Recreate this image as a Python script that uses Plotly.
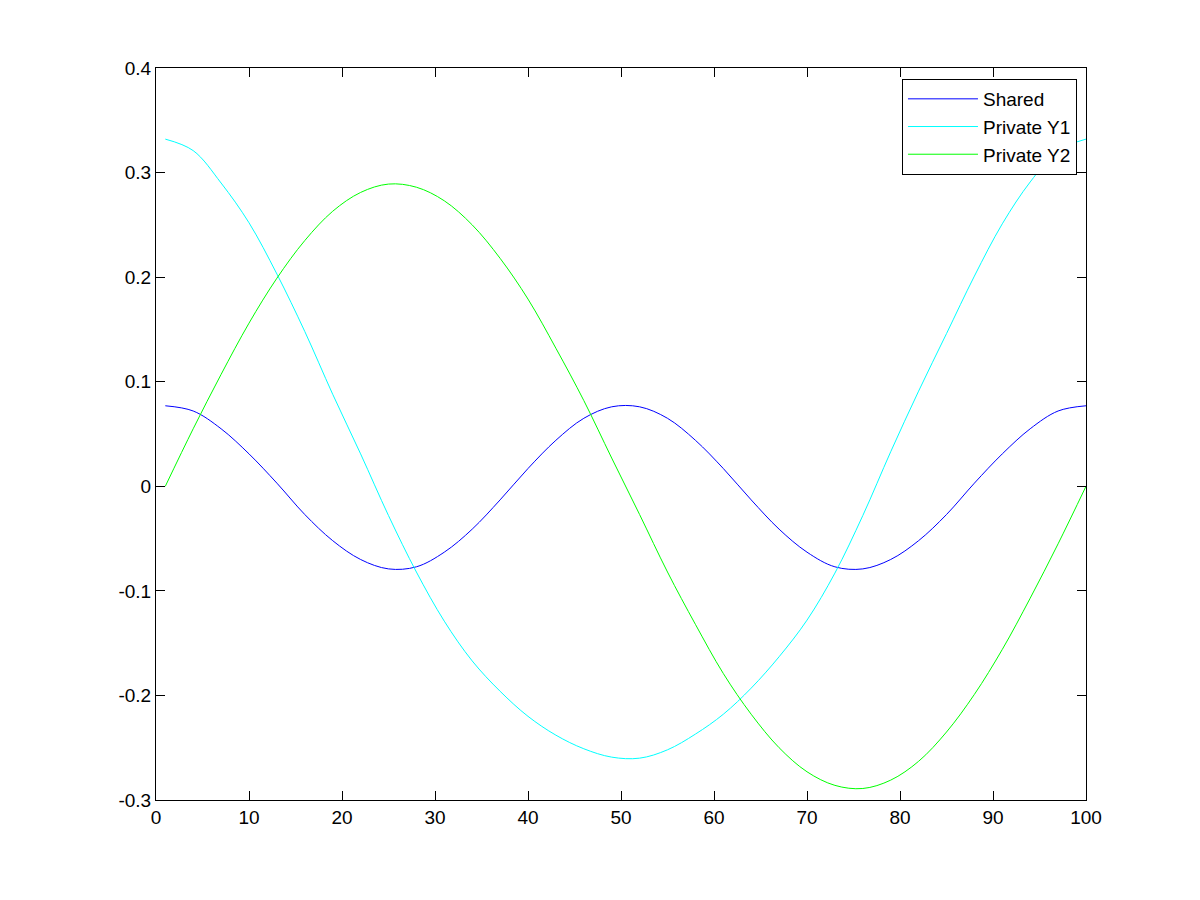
import plotly.graph_objects as go

x_vals = [1, 4, 7, 10, 13, 16, 19, 22, 25, 28, 31, 34, 37, 40, 43, 46, 49,
          52, 55, 58, 61, 64, 67, 70, 73, 76, 79, 82, 85, 88, 91, 94, 97, 100]

shared = [0.077, 0.072, 0.055, 0.031, 0.003, -0.027, -0.052, -0.070, -0.079,
          -0.077, -0.063, -0.041, -0.013, 0.017, 0.044, 0.065, 0.076,
          0.076, 0.065, 0.044, 0.017, -0.013, -0.041, -0.063, -0.077,
          -0.079, -0.070, -0.052, -0.027, 0.003, 0.031, 0.055, 0.072, 0.077]

private_y1 = [0.332, 0.321, 0.290, 0.252, 0.203, 0.148, 0.088, 0.031, -0.028,
              -0.082, -0.129, -0.167, -0.196, -0.220, -0.238, -0.251, -0.259,
              -0.260, -0.252, -0.237, -0.218, -0.193, -0.163, -0.128, -0.083,
              -0.028, 0.033, 0.091, 0.146, 0.201, 0.251, 0.291, 0.321, 0.332]

private_y2 = [0.0, 0.055, 0.107, 0.156, 0.199, 0.235, 0.263, 0.281, 0.289,
              0.286, 0.273, 0.250, 0.218, 0.179, 0.132, 0.082, 0.027,
              -0.027, -0.082, -0.132, -0.179, -0.218, -0.250, -0.273, -0.286,
              -0.289, -0.281, -0.263, -0.235, -0.199, -0.156, -0.107, -0.055, 0.0]

x_ticks = [0, 10, 20, 30, 40, 50, 60, 70, 80, 90, 100]
x_tick_text = ["0", "10", "20", "30", "40", "50", "60", "70", "80", "90", "100"]
y_ticks = [-0.3, -0.2, -0.1, 0.0, 0.1, 0.2, 0.3, 0.4]
y_tick_text = ["-0.3", "-0.2", "-0.1", "0", "0.1", "0.2", "0.3", "0.4"]

series = [
    ("Shared", shared, "#0000ff"),
    ("Private Y1", private_y1, "#00ffff"),
    ("Private Y2", private_y2, "#00ff00"),
]

FONT = "Liberation Sans, Arial, Helvetica"

fig = go.Figure()
for name, vals, color in series:
    fig.add_trace(go.Scatter(
        x=x_vals, y=vals, name=name, mode="lines",
        line=dict(color=color, width=1, shape="spline", smoothing=1.0),
    ))

axis_common = dict(
    showgrid=False, zeroline=False, showline=True, linecolor="black",
    linewidth=1, mirror="ticks", ticks="inside", ticklen=9, tickwidth=1,
    tickcolor="black", tickfont=dict(family=FONT, size=19, color="black"),
    automargin=False,
)

fig.update_xaxes(range=[0, 100], tickvals=x_ticks, ticktext=x_tick_text, **axis_common)
fig.update_yaxes(range=[-0.3, 0.4], tickvals=y_ticks, ticktext=y_tick_text, **axis_common)

fig.update_layout(
    width=1200, height=900,
    margin=dict(l=148, r=122, t=60, b=108),
    paper_bgcolor="white", plot_bgcolor="white",
    font=dict(family=FONT, size=19, color="black"),
    legend=dict(
        x=0.9903, y=0.985, xanchor="right", yanchor="top",
        bgcolor="white", bordercolor="black", borderwidth=1,
        font=dict(family=FONT, size=19, color="black"),
        itemwidth=70, tracegroupgap=0,
    ),
)

fig.write_html("out.html")
